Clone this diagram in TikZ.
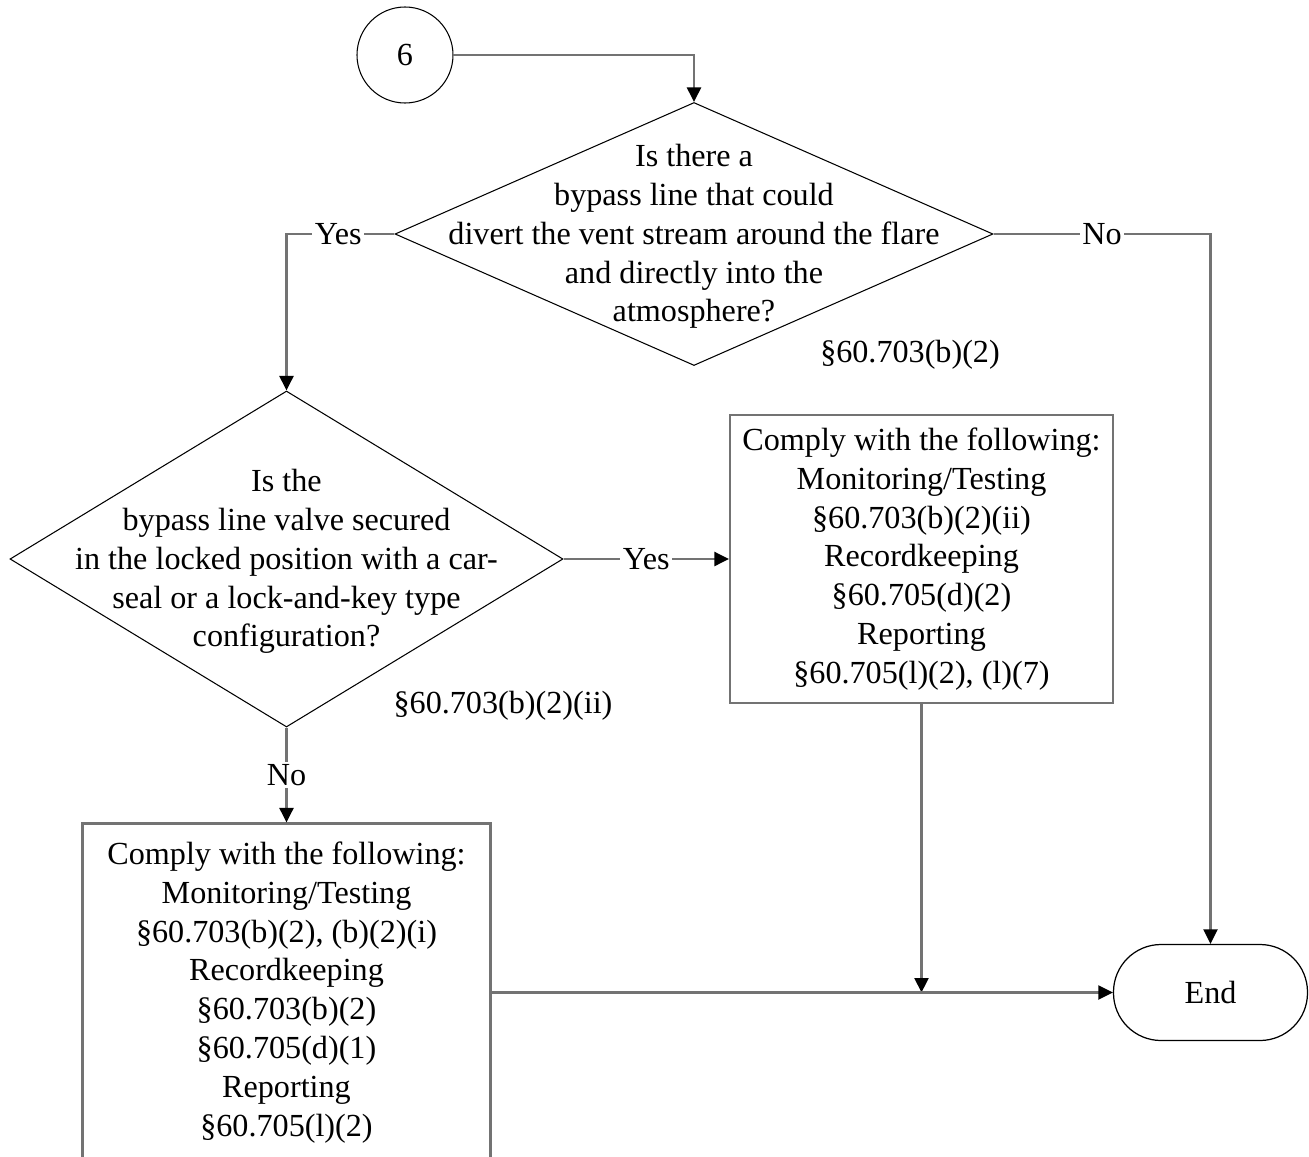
\documentclass[tikz,border=0pt]{standalone}
\usepackage{fontspec}
\setmainfont{Liberation Serif}
\usetikzlibrary{shapes.geometric, arrows.meta}
\newcommand{\flowfont}{\fontsize{18.3}{22.1}\selectfont}
\tikzset{
    offpage/.style={circle, minimum size=1.92cm, draw=black, line width=0.6pt, font=\flowfont},
    decision/.style={diamond, minimum width=11.96cm, minimum height=5.26cm, inner sep=0pt, draw=black, line width=0.6pt},
    qtext/.style={align=center, font=\flowfont, yshift=-0.05cm},
    process/.style={rectangle, minimum width=7.66cm, minimum height=5.76cm, align=center, draw=black!55, line width=1.2pt, font=\flowfont},
    startstop/.style={rectangle, rounded corners=0.95cm, minimum width=3.88cm, minimum height=1.92cm, draw=black, line width=0.7pt, font=\flowfont},
    cite/.style={font=\flowfont},
    answer/.style={fill=white, inner sep=1.5pt, font=\flowfont},
    line/.style={draw=black!55, line width=1.2pt},
    arrow/.style={line, -{Triangle[length=0.29cm, width=0.28cm, color=black]}}
}
\begin{document}
\begin{tikzpicture}[node distance=6.5cm]
    \useasboundingbox (-8.10,1.10) rectangle (18.08,-22.02);

    \node (c6) [offpage] {6};
    \node (dec1) [decision, below of=c6, xshift=5.78cm, yshift=2.92cm] {};
    \node (dec1q) [qtext] at (dec1) {Is there a\\bypass line that could\\divert the vent stream around the flare\\and directly into the\\atmosphere?};
    \node (dec2) [decision, minimum width=11.06cm, minimum height=6.72cm, below of=dec1, xshift=-8.15cm] {};
    \node (dec2q) [qtext] at (dec2) {Is the\\bypass line valve secured\\in the locked position with a car-\\seal or a lock-and-key type\\configuration?};
    \node (pro1) [process, right of=dec2, xshift=6.2cm] {Comply with the following:\\Monitoring/Testing\\§60.703(b)(2)(ii)\\Recordkeeping\\§60.705(d)(2)\\Reporting\\§60.705(l)(2), (l)(7)};
    \node (pro2) [process, minimum width=8.16cm, minimum height=6.76cm, below of=dec2, yshift=-2.17cm] {Comply with the following:\\Monitoring/Testing\\§60.703(b)(2), (b)(2)(i)\\Recordkeeping\\§60.703(b)(2)\\§60.705(d)(1)\\Reporting\\§60.705(l)(2)};
    \node (stop) [startstop, right of=pro2, xshift=11.98cm] {End};
    \node (ref1) [cite, right of=dec1, xshift=-2.18cm, yshift=-2.42cm] {§60.703(b)(2)};
    \node (ref2) [cite, right of=dec2, xshift=-2.17cm, yshift=-2.94cm] {§60.703(b)(2)(ii)};
    \coordinate (join) at (pro1 |- stop);

    \draw [arrow] (c6) -| (dec1);
    \draw [arrow] (dec1) -| node [answer, pos=0.26] {Yes} (dec2);
    \draw [arrow] (dec1) -| node [answer, pos=0.25] {No} (stop);
    \draw [arrow] (dec2) -- node [answer] {Yes} (pro1);
    \draw [arrow] (dec2) -- node [answer] {No} (pro2);
    \draw [arrow] (pro1) -- (join);
    \draw [arrow] (pro2) -- (stop);

\end{tikzpicture}
\end{document}
